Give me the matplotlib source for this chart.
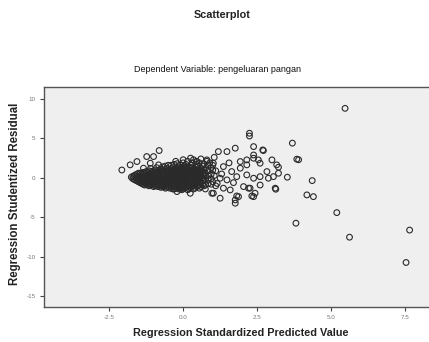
import numpy as np
import matplotlib
matplotlib.use("Agg")
import matplotlib.pyplot as plt

plt.rcParams['font.family'] = ['Liberation Sans', 'DejaVu Sans']

# titulos e eixos
titulo = "Scatterplot"
subtitulo = "Dependent Variable: pengeluaran pangan"
rotulo_x = "Regression Standardized Predicted Value"
rotulo_y = "Regression Studentized Residual"
xticks = [-2.5, 0.0, 2.5, 5.0, 7.5]
xtick_labels = ["-2.5", "0.0", "2.5", "5.0", "7.5"]
yticks = [10, 5, 0, -5, -10, -15]
ytick_labels = ["10", "5", "0", "-5", "-10", "-15"]

# nucleo denso (x, y)
nucleo = [
    (-1.75, 0.1), (-1.65, 0.3), (-1.65, -0.2),
    (-1.55, 0.5), (-1.55, 0.0), (-1.55, -0.4),
    (-1.45, 0.6), (-1.45, 0.1), (-1.45, -0.3), (-1.45, -0.6),
    (-1.35, 0.7), (-1.35, 0.3), (-1.35, -0.1), (-1.35, -0.5), (-1.35, -0.8),
    (-1.25, 0.8), (-1.25, 0.4), (-1.25, 0.0), (-1.25, -0.4), (-1.25, -0.8),
    (-1.15, 0.9), (-1.15, 0.5), (-1.15, 0.1), (-1.15, -0.3), (-1.15, -0.7), (-1.15, -1.0),
    (-1.05, 0.7), (-1.05, 0.3), (-1.05, -0.1), (-1.05, -0.5), (-1.05, -0.9),
    (-0.95, 1.0), (-0.95, 0.6), (-0.95, 0.2), (-0.95, -0.2), (-0.95, -0.6), (-0.95, -1.0),
    (-0.85, 0.8), (-0.85, 0.4), (-0.85, 0.0), (-0.85, -0.4), (-0.85, -0.8), (-0.85, -1.1),
    (-0.75, 1.1), (-0.75, 0.7), (-0.75, 0.3), (-0.75, -0.1), (-0.75, -0.5), (-0.75, -0.9), (-0.75, -1.2),
    (-0.65, 0.9), (-0.65, 0.5), (-0.65, 0.1), (-0.65, -0.3), (-0.65, -0.7), (-0.65, -1.1),
    (-0.55, 1.2), (-0.55, 0.8), (-0.55, 0.4), (-0.55, 0.0), (-0.55, -0.4), (-0.55, -0.8), (-0.55, -1.2),
    (-0.45, 1.0), (-0.45, 0.6), (-0.45, 0.2), (-0.45, -0.2), (-0.45, -0.6), (-0.45, -1.0), (-0.45, -1.3),
    (-0.35, 1.3), (-0.35, 0.9), (-0.35, 0.5), (-0.35, 0.1), (-0.35, -0.3), (-0.35, -0.7), (-0.35, -1.1), (-0.35, -1.4),
    (-0.25, 1.1), (-0.25, 0.7), (-0.25, 0.3), (-0.25, -0.1), (-0.25, -0.5), (-0.25, -0.9), (-0.25, -1.3),
    (-0.15, 1.4), (-0.15, 1.0), (-0.15, 0.6), (-0.15, 0.2), (-0.15, -0.2), (-0.15, -0.6), (-0.15, -1.0), (-0.15, -1.4),
    (-0.05, 1.2), (-0.05, 0.8), (-0.05, 0.4), (-0.05, 0.0), (-0.05, -0.4), (-0.05, -0.8), (-0.05, -1.2), (-0.05, -1.5),
    (0.05, 1.5), (0.05, 1.1), (0.05, 0.7), (0.05, 0.3), (0.05, -0.1), (0.05, -0.5), (0.05, -0.9), (0.05, -1.3),
    (0.15, 1.3), (0.15, 0.9), (0.15, 0.5), (0.15, 0.1), (0.15, -0.3), (0.15, -0.7), (0.15, -1.1), (0.15, -1.5),
    (0.25, 1.6), (0.25, 1.2), (0.25, 0.8), (0.25, 0.4), (0.25, 0.0), (0.25, -0.4), (0.25, -0.8), (0.25, -1.2),
    (0.35, 1.0), (0.35, 0.6), (0.35, 0.2), (0.35, -0.2), (0.35, -0.6), (0.35, -1.0), (0.35, -1.4),
    (0.45, 1.7), (0.45, 1.3), (0.45, 0.9), (0.45, 0.5), (0.45, 0.1), (0.45, -0.3), (0.45, -0.7), (0.45, -1.1),
    (0.55, 1.1), (0.55, 0.7), (0.55, 0.3), (0.55, -0.1), (0.55, -0.5), (0.55, -0.9), (0.55, -1.3),
    (0.65, 1.5), (0.65, 0.8), (0.65, 0.4), (0.65, 0.0), (0.65, -0.4), (0.65, -0.8),
    (0.75, 1.2), (0.75, 0.6), (0.75, 0.2), (0.75, -0.3), (0.75, -0.9), (0.75, -1.4),
    (0.85, 1.6), (0.85, 0.9), (0.85, 0.3), (0.85, -0.2), (0.85, -0.7),
    (0.95, 1.3), (0.95, 0.5), (0.95, -0.1), (0.95, -0.8),
]

# segunda camada do nucleo, entre os pontos acima
nucleo_meio = [
    (-1.7, 0.2), (-1.7, -0.1),
    (-1.6, 0.4), (-1.6, 0.0), (-1.6, -0.3),
    (-1.5, 0.6), (-1.5, 0.2), (-1.5, -0.2), (-1.5, -0.5),
    (-1.4, 0.5), (-1.4, 0.1), (-1.4, -0.3), (-1.4, -0.7),
    (-1.3, 0.6), (-1.3, 0.2), (-1.3, -0.2), (-1.3, -0.6), (-1.3, -0.9),
    (-1.2, 0.7), (-1.2, 0.3), (-1.2, -0.1), (-1.2, -0.5), (-1.2, -0.9),
    (-1.1, 0.8), (-1.1, 0.4), (-1.1, 0.0), (-1.1, -0.4), (-1.1, -0.8),
    (-1.0, 0.9), (-1.0, 0.5), (-1.0, 0.1), (-1.0, -0.3), (-1.0, -0.7), (-1.0, -1.1),
    (-0.9, 0.7), (-0.9, 0.3), (-0.9, -0.1), (-0.9, -0.5), (-0.9, -0.9),
    (-0.8, 1.0), (-0.8, 0.6), (-0.8, 0.2), (-0.8, -0.2), (-0.8, -0.6), (-0.8, -1.0),
    (-0.7, 0.9), (-0.7, 0.5), (-0.7, 0.1), (-0.7, -0.3), (-0.7, -0.7), (-0.7, -1.1),
    (-0.6, 1.1), (-0.6, 0.7), (-0.6, 0.3), (-0.6, -0.1), (-0.6, -0.5), (-0.6, -0.9), (-0.6, -1.3),
    (-0.5, 0.9), (-0.5, 0.5), (-0.5, 0.1), (-0.5, -0.3), (-0.5, -0.7), (-0.5, -1.1),
    (-0.4, 1.2), (-0.4, 0.8), (-0.4, 0.4), (-0.4, 0.0), (-0.4, -0.4), (-0.4, -0.8), (-0.4, -1.2),
    (-0.3, 1.0), (-0.3, 0.6), (-0.3, 0.2), (-0.3, -0.2), (-0.3, -0.6), (-0.3, -1.0), (-0.3, -1.4),
    (-0.2, 1.3), (-0.2, 0.9), (-0.2, 0.5), (-0.2, 0.1), (-0.2, -0.3), (-0.2, -0.7), (-0.2, -1.1),
    (-0.1, 1.1), (-0.1, 0.7), (-0.1, 0.3), (-0.1, -0.1), (-0.1, -0.5), (-0.1, -0.9), (-0.1, -1.3),
    (0.0, 1.4), (0.0, 1.0), (0.0, 0.6), (0.0, 0.2), (0.0, -0.2), (0.0, -0.6), (0.0, -1.0), (0.0, -1.4),
    (0.1, 1.2), (0.1, 0.8), (0.1, 0.4), (0.1, 0.0), (0.1, -0.4), (0.1, -0.8), (0.1, -1.2),
    (0.2, 1.4), (0.2, 1.0), (0.2, 0.6), (0.2, 0.2), (0.2, -0.2), (0.2, -0.6), (0.2, -1.0), (0.2, -1.4),
    (0.3, 1.3), (0.3, 0.9), (0.3, 0.5), (0.3, 0.1), (0.3, -0.3), (0.3, -0.7), (0.3, -1.1),
    (0.4, 1.1), (0.4, 0.7), (0.4, 0.3), (0.4, -0.1), (0.4, -0.5), (0.4, -0.9), (0.4, -1.3),
    (0.5, 1.5), (0.5, 1.0), (0.5, 0.5), (0.5, 0.0), (0.5, -0.5), (0.5, -1.0),
    (0.6, 1.2), (0.6, 0.6), (0.6, 0.1), (0.6, -0.6), (0.6, -1.1),
    (0.7, 1.0), (0.7, 0.4), (0.7, -0.2), (0.7, -1.0),
]

# borda superior do nucleo, mais alta do lado direito
nucleo_topo = [
    (-1.1, 1.2), (-0.9, 1.3), (-0.7, 1.4), (-0.6, 1.5), (-0.5, 1.6),
    (-0.4, 1.6), (-0.3, 1.7), (-0.25, 2.1), (-0.2, 1.8), (-0.1, 1.6),
    (0.0, 1.9), (0.0, 2.3), (0.1, 1.7), (0.15, 2.1), (0.25, 2.5),
    (0.3, 1.9), (0.35, 2.3), (0.45, 2.1), (0.55, 1.9), (0.6, 2.4),
    (0.7, 1.8), (0.8, 2.1), (0.9, 1.9), (1.0, 1.6), (1.0, 1.0),
    (1.05, 0.3), (1.0, -0.5), (1.1, -1.0),
]

# pontos espalhados ao redor do nucleo
espalhados = [
    (-2.07, 1.0), (-1.79, 1.65), (-1.56, 2.07), (-1.23, 2.7), (-1.0, 2.7),
    (-0.81, 3.46), (-1.11, 1.86), (-1.34, 1.23), (-0.83, 1.65),
    (0.8, 2.28), (1.02, 1.86), (0.46, 2.07),
    (1.19, 3.33), (1.48, 3.33), (1.76, 3.76), (2.24, 5.65), (2.24, 5.3),
    (2.38, 3.96), (2.69, 3.54), (3.0, 2.28), (3.16, 1.65), (1.93, 2.07),
    (2.15, 2.28), (2.38, 2.49), (2.6, 1.86), (1.36, 1.43), (1.64, 0.8),
    (1.93, 1.23), (2.15, 1.65), (1.25, -0.04), (1.48, -0.25), (1.81, 0.16),
    (2.15, 0.38), (2.38, -0.04), (2.83, 0.8), (2.6, 0.16), (3.05, 0.16),
    (3.22, 0.59), (1.36, -1.3), (1.59, -1.52), (2.04, -1.1), (2.26, -1.3),
    (2.43, -1.94), (1.87, -2.37), (1.76, -2.78), (2.38, -2.37), (3.11, -1.3),
    (1.02, -1.94), (0.24, -1.94), (-0.21, -1.73), (1.81, -2.28), (1.76, -3.2),
    (2.32, -2.28), (2.21, -1.3), (0.97, -1.94), (1.25, -2.57), (2.6, -0.9),
    (2.88, -0.04), (2.54, 2.28), (2.38, 2.9), (1.1, 0.9), (1.3, 0.5),
    (1.55, 1.9), (1.15, -0.7), (1.7, -0.6), (1.05, 2.6),
]

# valores extremos
extremos = [
    (5.47, 8.8), (3.69, 4.4), (3.84, 2.37), (3.9, 2.3), (4.36, -0.34),
    (4.18, -2.15), (4.40, -2.37), (5.19, -4.39), (3.81, -5.73), (5.62, -7.5),
    (7.65, -6.6), (7.53, -10.7), (3.52, 0.09), (3.13, -1.43), (3.22, 1.35),
    (2.71, 3.46),
]

pontos = np.array(nucleo + nucleo_meio + nucleo_topo + espalhados + extremos)

fig = plt.figure(figsize=(4.29, 3.42), dpi=100)
ax = fig.add_axes([44 / 429, 1 - 307 / 342, 1 - 44 / 429 + 0.01, (307 - 87) / 342])
ax.set_facecolor('#efefef')

ax.scatter(pontos[:, 0], pontos[:, 1], s=17, facecolors='none',
           edgecolors='#2a2a2a', linewidths=0.8, zorder=3)

ax.set_xlim(-4.7, 8.45)
ax.set_ylim(-16.33, 11.5)
ax.set_xticks(xticks)
ax.set_xticklabels(xtick_labels)
ax.set_yticks(yticks)
ax.set_yticklabels(ytick_labels)
ax.tick_params(labelsize=4.5, labelcolor='#777777', length=3, width=0.8,
               color='#444444', pad=3)
for lado in ['left', 'bottom', 'top']:
    ax.spines[lado].set_color('#555555')
    ax.spines[lado].set_linewidth(1.0)
ax.spines['right'].set_visible(False)

fig.text(222 / 429, 1 - 15 / 342, titulo, ha='center', va='center',
         fontsize=7.8, fontweight='bold', color='#222222')
fig.text(218 / 429, 1 - 70 / 342, subtitulo, ha='center', va='center',
         fontsize=6.5, color='#111111')
fig.text(241 / 429, 1 - 333 / 342, rotulo_x, ha='center', va='center',
         fontsize=7.8, fontweight='bold', color='#222222')
fig.text(15 / 429, 1 - 194 / 342, rotulo_y, ha='center', va='center',
         rotation=90, fontsize=8.3, fontweight='bold', color='#222222')

fig.savefig('out.png', dpi=100)
